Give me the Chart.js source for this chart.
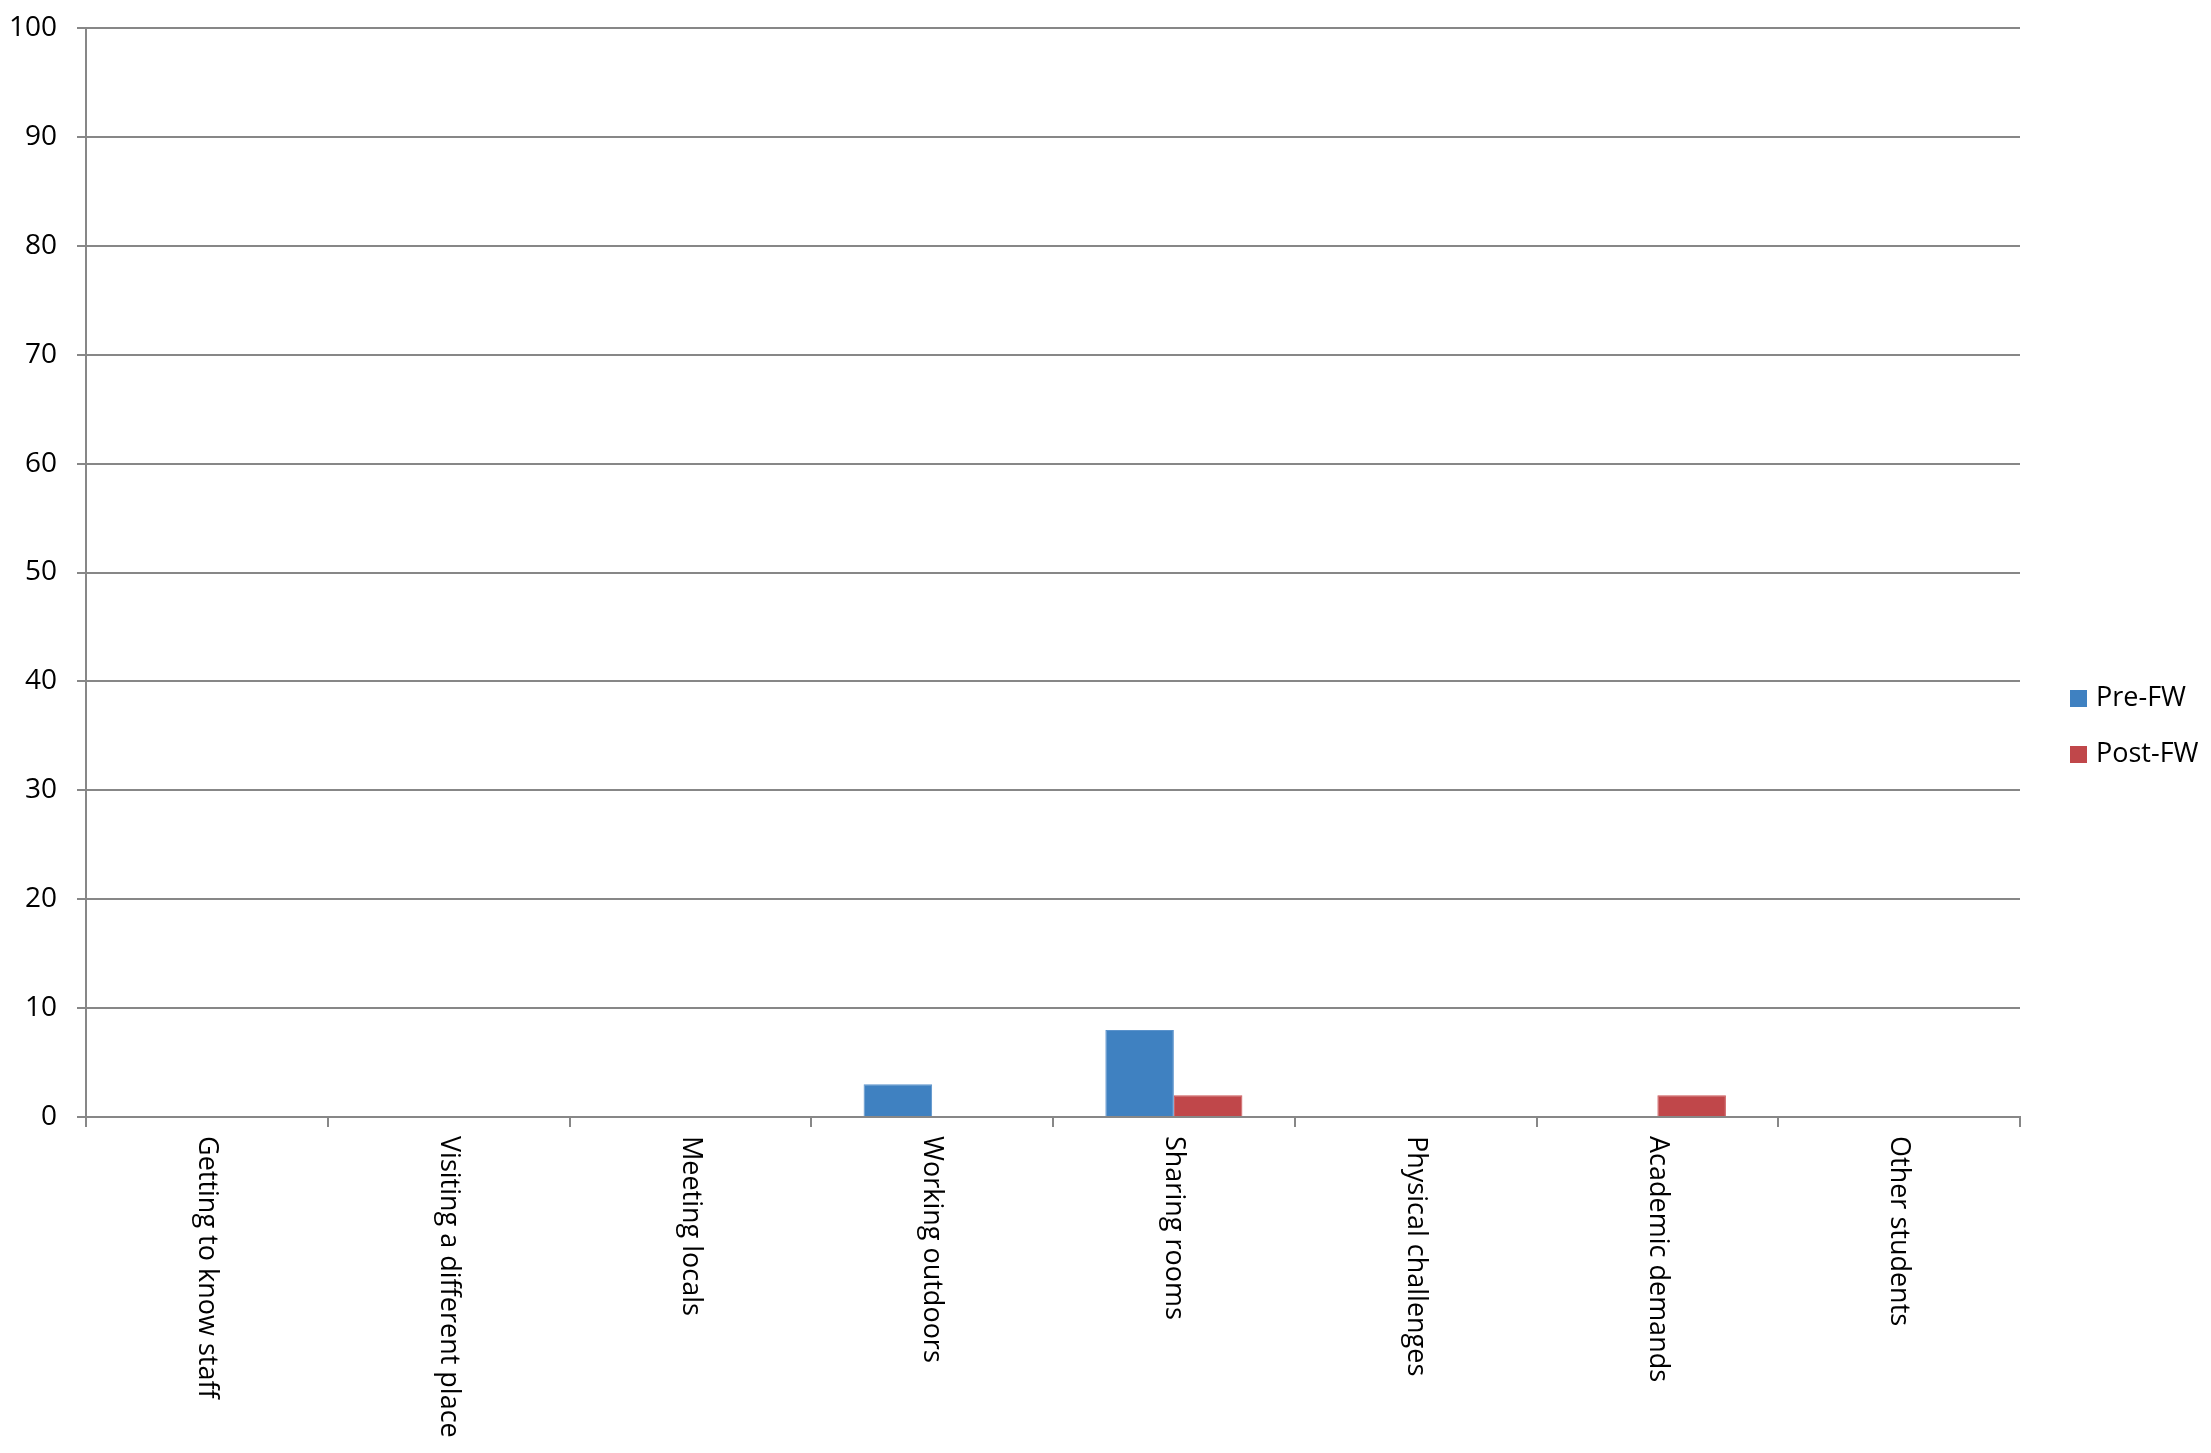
<!DOCTYPE html>
<html>
<head>
<meta charset="utf-8">
<script src="https://cdn.jsdelivr.net/npm/chart.js@4/dist/chart.umd.min.js"></script>
<style>
  html, body { margin: 0; padding: 0; background: #ffffff; }
  #wrap { width: 2211px; height: 1453px; }
</style>
</head>
<body>
<div id="wrap"><canvas id="barChart" width="2211" height="1453"></canvas></div>
<script>
// Data
const categories = ["Getting to know staff", "Visiting a different place", "Meeting locals",
    "Working outdoors", "Sharing rooms", "Physical challenges", "Academic demands", "Other students"];
const preFW = [0, 0, 0, 3, 8, 0, 0, 0];
const postFW = [0, 0, 0, 0, 2, 0, 2, 0];
const yTicks = [0, 10, 20, 30, 40, 50, 60, 70, 80, 90, 100];
const seriesNames = ["Pre-FW", "Post-FW"];
const seriesColors = ["#3F81C1", "#C0474A"];

const FONT = "'Open Sans', 'Noto Sans', sans-serif";
const axisGray = "#878787";

// vertical category labels, reading top to bottom
const verticalLabels = {
    id: 'verticalLabels',
    afterDraw(chart) {
        const ctx = chart.ctx;
        const xs = chart.scales.x;
        ctx.save();
        ctx.font = '27px ' + FONT;
        ctx.fillStyle = '#000000';
        ctx.textAlign = 'left';
        ctx.textBaseline = 'middle';
        categories.forEach((label, i) => {
            const x = xs.getPixelForValue(i);
            ctx.save();
            ctx.translate(x, xs.top + 19);
            ctx.rotate(Math.PI / 2);
            ctx.fillText(label, 0, 0);
            ctx.restore();
        });
        ctx.restore();
    }
};

// legend on the right
const sideLegend = {
    id: 'sideLegend',
    afterDraw(chart) {
        const ctx = chart.ctx;
        ctx.save();
        ctx.font = '27px ' + FONT;
        ctx.textAlign = 'left';
        ctx.textBaseline = 'middle';
        seriesNames.forEach((name, i) => {
            const y = 698 + i * 56;
            ctx.fillStyle = seriesColors[i];
            ctx.fillRect(2070, y - 8, 17, 17);
            ctx.fillStyle = '#000000';
            ctx.fillText(name, 2096, y);
        });
        ctx.restore();
    }
};

const ctx = document.getElementById('barChart').getContext('2d');
new Chart(ctx, {
    type: 'bar',
    data: {
        labels: categories,
        datasets: [{
            label: seriesNames[0],
            data: preFW,
            backgroundColor: seriesColors[0],
            borderColor: '#5B93CC',
            borderWidth: 1,
            categoryPercentage: 0.567,
            barPercentage: 1.0
        }, {
            label: seriesNames[1],
            data: postFW,
            backgroundColor: seriesColors[1],
            borderColor: '#CC5558',
            borderWidth: 1,
            categoryPercentage: 0.567,
            barPercentage: 1.0
        }]
    },
    options: {
        responsive: false,
        animation: false,
        devicePixelRatio: 1,
        layout: { padding: { left: 0, right: 191, top: 28, bottom: 0 } },
        plugins: {
            legend: { display: false },
            tooltip: { enabled: false }
        },
        scales: {
            x: {
                offset: true,
                grid: {
                    offset: true,
                    drawOnChartArea: false,
                    drawTicks: true,
                    tickLength: 10,
                    color: axisGray,
                    lineWidth: 2
                },
                border: { color: axisGray, width: 2 },
                ticks: { display: false },
                afterFit(scale) { scale.height = 1453 - 1117; }
            },
            y: {
                min: 0,
                max: 100,
                afterBuildTicks(scale) { scale.ticks = yTicks.map(v => ({ value: v })); },
                grid: {
                    color: axisGray,
                    lineWidth: 2,
                    drawTicks: true,
                    tickLength: 9
                },
                border: { color: axisGray, width: 2 },
                ticks: {
                    color: '#000000',
                    padding: 20,
                    font: { family: FONT, size: 28 }
                },
                afterFit(scale) {
                    scale.width = 86;
                    scale.paddingTop = 0;
                    scale.paddingBottom = 0;
                }
            }
        }
    },
    plugins: [verticalLabels, sideLegend]
});
</script>
</body>
</html>
